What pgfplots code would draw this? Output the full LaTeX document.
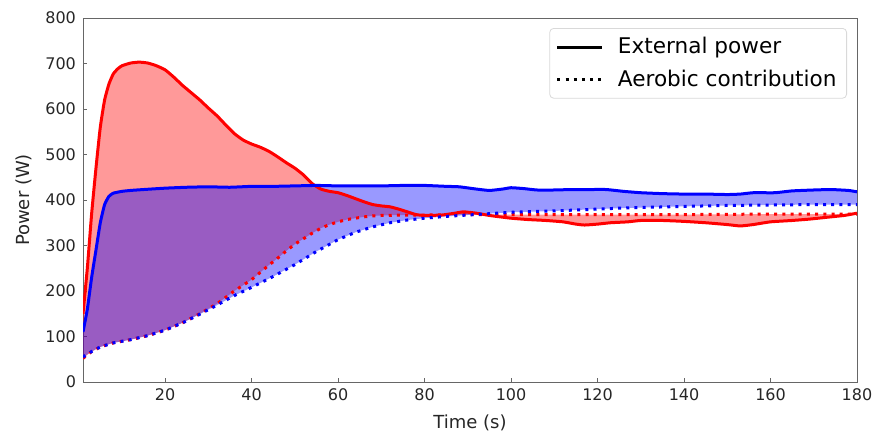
\documentclass[border=0pt]{standalone}
\usepackage{pgfplots}
\pgfplotsset{compat=1.18}
\usepackage{pgfplotstable}
\usepgfplotslibrary{fillbetween}
\usepackage{fontspec}
\setmainfont{DejaVu Sans}

% external power and aerobic contribution, two trials (red, blue)
\pgfplotstableread{
t p
1 150
2 250
3 370
4 470
5 560
6 620
7 655
8 677
9 688
10 695
12 701
14 703
16 701
18 695
20 686
22 670
24 652
26 636
28 620
30 602
32 585
34 565
36 546
38 532
40 523
42 516
44 507
46 495
48 482
50 470
52 455
54 436
56 424
58 419
60 416
62 410
64 403
66 396
68 390
70 387
72 385
74 380
76 374
78 368
80 366
84 367
87 371
89 374
92 371
95 366
100 360
104 357
108 355
112 352
115 347
117 345
120 347
123 350
127 352
130 355
135 355
140 353
145 350
150 346
153 343
156 346
160 352
165 355
169 358
173 362
177 366
180 371
}\redext

\pgfplotstableread{
t p
1 52
3 67
5 77
8 86
12 93
16 102
20 114
24 130
28 150
32 172
36 200
40 225
42 241
44 257
46 272
48 288
50 303
52 315
54 327
56 338
58 346
60 352
62 357
64 360
66 363
68 365
70 366
75 367
80 367
90 368
100 368
120 368
140 368
160 369
180 369
}\redaer

\pgfplotstableread{
t p
1 110
2 160
3 230
4 290
5 350
6 390
7 408
8 415
10 419
12 421
15 423
20 426
25 428
30 429
35 428
40 430
45 430
50 431
55 432
60 431
65 431
70 431
75 432
80 432
85 430
88 429
92 424
95 421
98 424
100 427
103 425
106 422
110 422
114 423
118 423
122 423
126 419
130 416
135 414
140 413
145 413
150 412
153 413
156 416
161 416
165 420
170 422
174 423
178 421
180 418
}\blueext

\pgfplotstableread{
t p
1 55
3 67
5 77
8 86
12 93
16 102
20 114
24 130
28 149
32 169
36 190
40 208
45 232
50 258
55 287
60 313
64 329
68 341
72 350
76 356
80 360
85 364
90 367
95 370
100 373
110 376
115 378
125 382
132 384
140 386
150 388
160 389
170 390
180 390
}\blueaer

\begin{document}
\begin{tikzpicture}
\begin{axis}[
  name=ax,
  scale only axis,
  width=387pt, height=182pt,
  xmin=1, xmax=180, ymin=0, ymax=800,
  xtick={20,40,...,180},
  ytick={0,100,...,800},
  tick pos=left,
  tick align=inside,
  major tick length=2pt,
  every tick/.style={black!60},
  axis line style={black!60},
  tick label style={font=\fontsize{8}{9.6}\selectfont, black!85},
  /pgf/number format/assume math mode=true,
  label style={font=\fontsize{9}{10.8}\selectfont, black!85},
  xlabel={Time (s)},
  ylabel={Power (W)},
  legend cell align=left,
  legend image code/.code={\draw[#1] (0pt,0pt) -- (22.5pt,0pt);},
  legend style={at={(1,1)}, anchor=north east, xshift=-5pt, yshift=-5pt,
    draw=black!15, rounded corners=2pt,
    font=\fontsize{10.8}{13}\selectfont, row sep=2.5pt,
    inner xsep=3pt, inner ysep=2.5pt,
    /tikz/every odd column/.append style={column sep=5pt}},
]
\addplot[draw=none, name path=rs, forget plot] table {\redext};
\addplot[draw=none, name path=rd, forget plot] table {\redaer};
\addplot[draw=none, name path=bs, forget plot] table {\blueext};
\addplot[draw=none, name path=bd, forget plot] table {\blueaer};

\addplot[red, draw=none, fill opacity=0.4, forget plot] fill between[of=rs and rd];
\addplot[blue, draw=none, fill opacity=0.4, forget plot] fill between[of=bs and bd];

\addplot[red, line width=1.5pt, smooth, tension=0.3, forget plot] table {\redext};
\addplot[red, line width=1.5pt, dash pattern=on 1.5pt off 2.6pt, forget plot] table {\redaer};
\addplot[blue, line width=1.5pt, smooth, tension=0.3, forget plot] table {\blueext};
\addplot[blue, line width=1.5pt, dash pattern=on 1.5pt off 2.6pt, forget plot] table {\blueaer};

\addlegendimage{black, line width=1.6pt}
\addlegendentry{External power}
\addlegendimage{black, line width=1.6pt, dash pattern=on 1.5pt off 2.6pt}
\addlegendentry{Aerobic contribution}
\end{axis}
\pgfresetboundingbox
\path ([shift={(-41.5pt,-28pt)}]ax.south west) rectangle ([shift={(10.5pt,9pt)}]ax.north east);
\end{tikzpicture}
\end{document}
